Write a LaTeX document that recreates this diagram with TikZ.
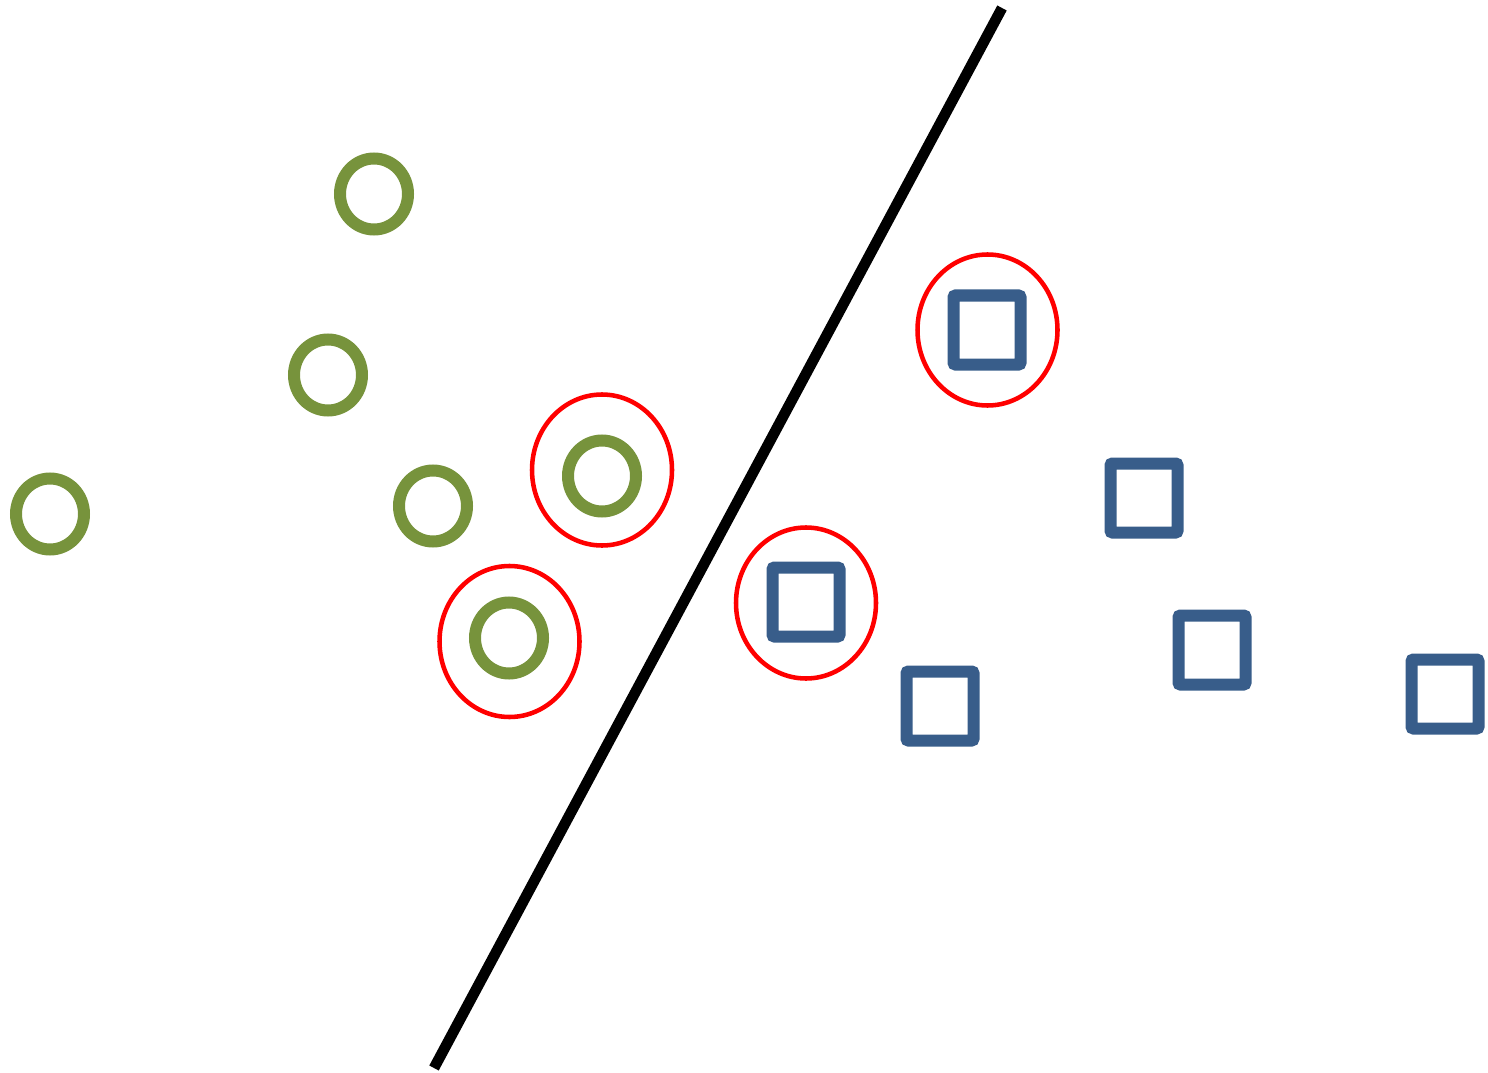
\documentclass[tikz,border=0pt]{standalone}
\usepackage{tikz}
\definecolor{olive}{HTML}{77933C}
\definecolor{steel}{HTML}{385D8A}
\definecolor{ringred}{HTML}{FF0000}

\begin{document}
\begin{tikzpicture}[x=0.75pt,y=-0.75pt]
  \useasboundingbox (0,0) rectangle (1488,1073);
  \def\crx{34}
  \def\cry{35.5}
  \def\sqx{33.5}
  \def\sqy{34.5}

  % separating line
  \draw[black,line width=8pt] (1002,8) -- (434,1068);

  % class one: circles
  \foreach \cx/\cy in {374/194,328/375,50/514,433/506,602/476,509/638}{
    \draw[olive,line width=9pt] (\cx,\cy) ellipse [x radius=\crx,y radius=\cry];
  }

  % class two: squares
  \foreach \sx/\sy in {987/330,1144/498,806/602,940/706,1212/650,1445/694}{
    \draw[steel,line width=9pt,rounded corners=1.5pt]
      (\sx-\sqx,\sy-\sqy) rectangle (\sx+\sqx,\sy+\sqy);
  }

  % support vectors
  \foreach \rx/\ry in {987.5/330,602/470,509.5/641.5,806/603}{
    \draw[ringred,line width=3.4pt] (\rx,\ry) ellipse [x radius=70,y radius=75.5];
  }
\end{tikzpicture}
\end{document}
